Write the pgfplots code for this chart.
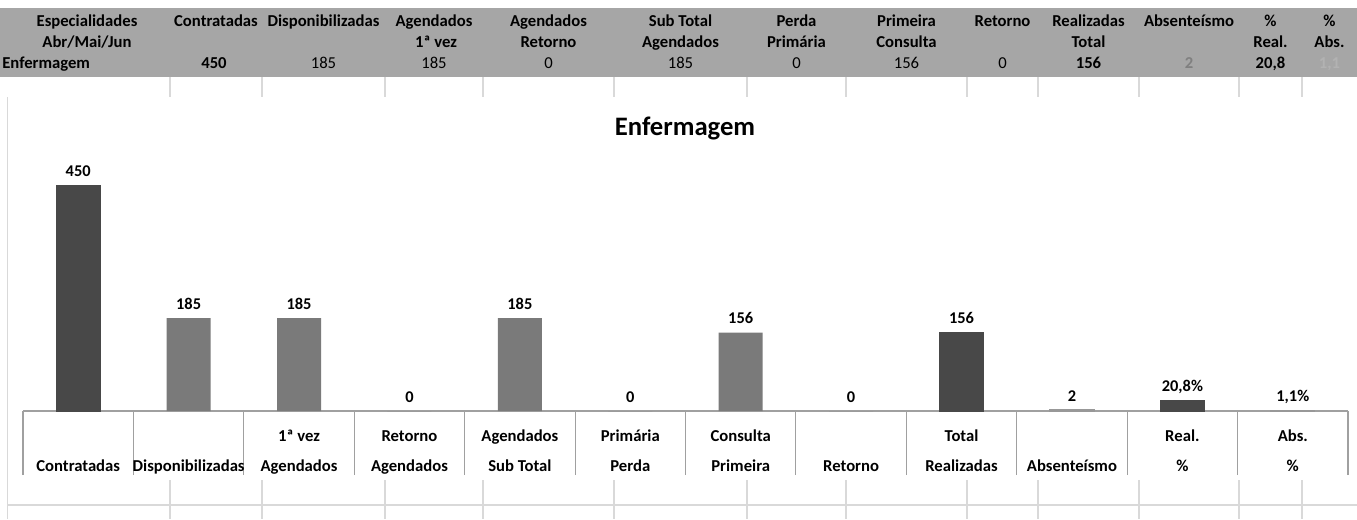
\documentclass[border=0pt]{standalone}
\usepackage{fontspec}
\setmainfont{Carlito}
\usepackage{pgfplots}
\pgfplotsset{compat=1.18}
\definecolor{band}{HTML}{A6A6A6}
\definecolor{gridc}{HTML}{D9D9D9}
\definecolor{darkbar}{HTML}{484848}
\definecolor{midbar}{HTML}{7A7A7A}
\definecolor{lightbar}{HTML}{989898}
\definecolor{axc}{HTML}{A0A0A0}
\newcommand\hf{\bfseries\fontsize{12.5}{14}\selectfont}
\newcommand\vf{\fontsize{12.5}{14}\selectfont}
\begin{document}
\begin{tikzpicture}
\begin{scope}[x=0.75pt,y=-0.75pt]
\path[use as bounding box] (0,0) rectangle (1357,519);
\fill[band] (0,8) rectangle (1357,77);
\foreach \b in {170,262,385,483,614,747,846,967,1038,1139,1239,1302} {
  \draw[gridc, line width=1.1pt] (\b,77) -- (\b,97);
  \draw[gridc, line width=1.1pt] (\b,480) -- (\b,519);
}
\draw[gridc, line width=1.1pt] (7.5,97) -- (7.5,519);
\draw[gridc, line width=1.1pt] (7.5,505) -- (1357,505);
% header row 1 and 2
\begin{scope}[every node/.style={anchor=base, inner sep=0pt, font=\hf}]
\node at (87,26.5) {Especialidades};   \node at (87,47) {Abr/Mai/Jun};
\node at (216,26.5) {Contratadas};
\node at (323.5,26.5) {Disponibilizadas};
\node at (434,26.5) {Agendados};       \node at (436,47) {1ª vez};
\node at (548.5,26.5) {Agendados};     \node at (548.5,47) {Retorno};
\node at (680.5,26.5) {Sub Total};     \node at (680.5,47) {Agendados};
\node at (796.5,26.5) {Perda};         \node at (796.5,47) {Primária};
\node at (906.5,26.5) {Primeira};      \node at (906.5,47) {Consulta};
\node at (1002.5,26.5) {Retorno};
\node at (1088.5,26.5) {Realizadas};   \node at (1088.5,47) {Total};
\node at (1189,26.5) {Absenteísmo};
\node at (1270.5,26.5) {\%};           \node at (1270.5,47) {Real.};
\node at (1329.5,26.5) {\%};           \node at (1329.5,47) {Abs.};
% values row
\node[anchor=base west] at (2,68) {Enfermagem};
\node at (214,68) {450};
\node[font=\vf] at (323.5,68) {185};
\node[font=\vf] at (434,68) {185};
\node[font=\vf] at (548.5,68) {0};
\node[font=\vf] at (680.5,68) {185};
\node[font=\vf] at (796.5,68) {0};
\node[font=\vf] at (906.5,68) {156};
\node[font=\vf] at (1002.5,68) {0};
\node at (1088.5,68) {156};
\node[text=black!50] at (1189,68) {2};
\node at (1270.5,68) {20,8};
\node[text=black!30] at (1329.5,68) {1,1};
\end{scope}
\node[font=\bfseries\fontsize{20}{24}\selectfont] at (685,128) {Enfermagem};
\end{scope}

\begin{axis}[
  at={(17.25pt,-308.25pt)}, anchor=south west,
  width=993.75pt, height=169.5pt, scale only axis,
  xmin=-0.5, xmax=11.5, ymin=0, ymax=450,
  clip=false,
  axis y line=none, axis x line=bottom,
  x axis line style={-, draw=axc, line width=0.8pt},
  xtick={0,...,11},
  xticklabels={Contratadas,Disponibilizadas,Agendados,Agendados,Sub Total,Perda,Primeira,Retorno,Realizadas,Absenteísmo,\%,\%},
  xticklabel style={font=\hf, anchor=base, yshift=-45.4pt, inner sep=0pt},
  extra x ticks={2,3,4,5,6,8,10,11},
  extra x tick labels={1ª vez,Retorno,Agendados,Primária,Consulta,Total,Real.,Abs.},
  extra x tick style={xticklabel style={yshift=22.5pt}, major tick length=0pt},
  major tick length=0pt,
  minor xtick={-0.5,0.5,...,11.5},
  minor tick length=48pt,
  tick align=outside,
  minor tick style={draw=axc, line width=0.8pt},
  nodes near coords,
  point meta=explicit symbolic,
  every node near coord/.append style={font=\bfseries\fontsize{12.3}{14}\selectfont, anchor=base, yshift=6.5pt, inner sep=0pt},
]
\addplot[ybar, bar width=33pt, bar shift=0pt, fill=darkbar, draw=darkbar, line width=0.4pt]
  coordinates {(0,450) [450] (8,156) [156] (10,20.8) [20,8\%]};
\addplot[ybar, bar width=33pt, bar shift=0pt, fill=midbar, draw=none]
  coordinates {(1,185) [185] (2,185) [185] (3,0) [0] (4,185) [185] (5,0) [0] (6,156) [156] (7,0) [0]};
\addplot[ybar, bar width=33pt, bar shift=0pt, fill=lightbar, draw=lightbar, line width=0.9pt]
  coordinates {(9,2) [2] (11,1.1) [1,1\%]};
\end{axis}
\end{tikzpicture}
\end{document}
